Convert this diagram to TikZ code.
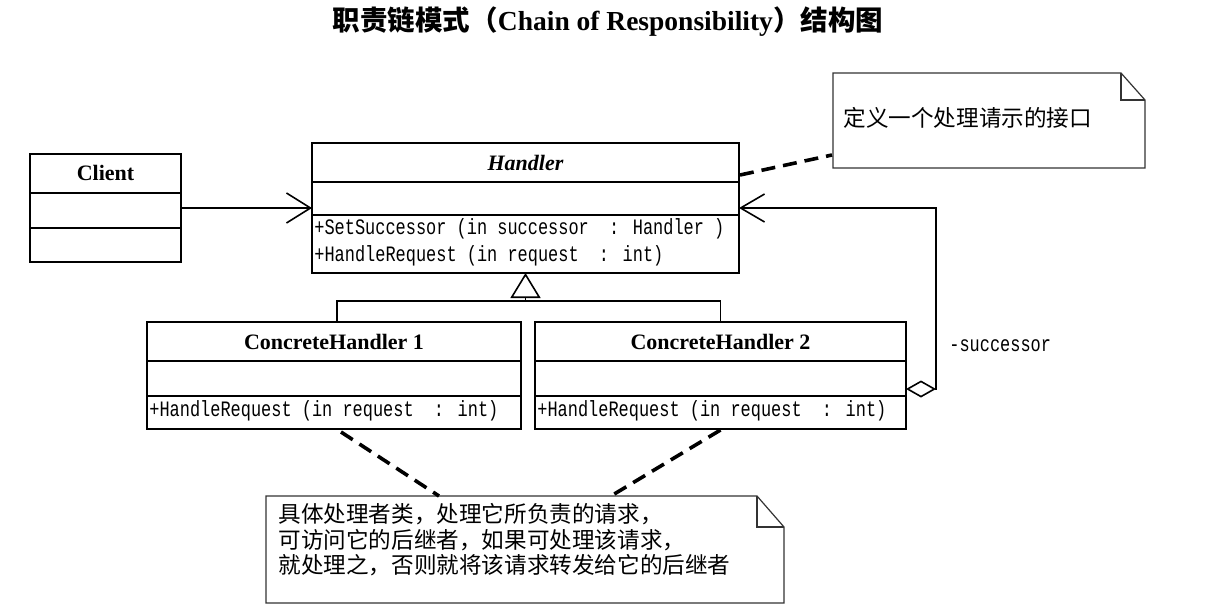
\documentclass[tikz,border=0pt]{standalone}
\usepackage{fontspec}
\setmainfont{Liberation Serif}
\newfontfamily\cjk{Noto Sans CJK SC}
\newfontfamily\methfont[FakeStretch=0.77]{Liberation Mono}
\usetikzlibrary{positioning, calc, arrows.meta}

\begin{document}
\begin{tikzpicture}[x=0.5pt,y=-0.5pt,
   classbox/.style={draw, line width=1pt, inner sep=0pt, outer sep=0pt},
   sepline/.style={line width=0.9pt},
   cname/.style={font=\fontsize{11}{13}\selectfont\bfseries, inner sep=0pt},
   meth/.style={font=\methfont\fontsize{11}{12}\selectfont, anchor=west, inner sep=0pt},
   notebox/.style={inner sep=0pt, outer sep=0pt},
   noteframe/.style={line width=0.6pt, draw=black!80},
   notetext/.style={font=\cjk\fontsize{11.3}{12.75}\selectfont, inner sep=0pt, align=left},
   noteline/.style={line width=1.8pt, dash pattern=on 7pt off 4pt},
   conn/.style={line width=0.7pt},
   assoc/.style={conn, -{Straight Barb[length=12pt,width=15pt,line width=0.8pt]}},
   inherit/.style={conn, -{Triangle[open,length=12.5pt,width=15pt,line width=0.8pt]}},
   aggr/.style={conn, {Diamond[open,length=15pt,width=8.5pt,line width=0.8pt]}-{Straight Barb[length=12pt,width=14pt,line width=0.8pt]}}]

\fill[white] (0,0) rectangle (1216,611);
\useasboundingbox (0,0) rectangle (1216,611);

\node (title) at (608,22) {\fontsize{13.75}{16}\selectfont\bfseries\cjk 职责链模式（\rmfamily Chain of Responsibility\cjk ）结构图};

% classes
\node[classbox, minimum width=75.5pt, minimum height=54pt] (client) at (105.5,208) {};
\node[classbox, minimum width=213.5pt, minimum height=65pt] (handler) at (525.5,208) {};
\node[classbox, minimum width=187pt, minimum height=53.5pt] (ch1) at (334,375.5) {};
\node[classbox, minimum width=185.5pt, minimum height=53.5pt] (ch2) at (720.5,375.5) {};

\draw[sepline] ($(client.north west)+(0,39)$) -- ($(client.north east)+(0,39)$);
\draw[sepline] ($(client.north west)+(0,74)$) -- ($(client.north east)+(0,74)$);
\draw[sepline] ($(handler.north west)+(0,39)$) -- ($(handler.north east)+(0,39)$);
\draw[sepline] ($(handler.north west)+(0,72)$) -- ($(handler.north east)+(0,72)$);
\foreach \c in {ch1, ch2} {
  \draw[sepline] ($(\c.north west)+(0,39)$) -- ($(\c.north east)+(0,39)$);
  \draw[sepline] ($(\c.north west)+(0,74)$) -- ($(\c.north east)+(0,74)$);
}

\node[cname] (clientname) at ($(client.north)+(0,19)$) {Client};
\node[cname] (handlername) at ($(handler.north)+(0,20)$) {\itshape Handler};
\node[cname] (ch1name) at ($(ch1.north)+(0,20)$) {ConcreteHandler 1};
\node[cname] (ch2name) at ($(ch2.north)+(0,20)$) {ConcreteHandler 2};

\node[meth] (setsucc) at ($(handler.north west)+(2,86)$) {+SetSuccessor (in successor\ \ : Handler )};
\node[meth] (handlereq) at ($(handler.north west)+(2,113)$) {+HandleRequest (in request\ \ : int)};
\node[meth] (ch1req) at ($(ch1.north west)+(2,89)$) {+HandleRequest (in request\ \ : int)};
\node[meth] (ch2req) at ($(ch2.north west)+(2,89)$) {+HandleRequest (in request\ \ : int)};

% relations
\draw[assoc] (client.east) -- (client.east -| handler.west);
\coordinate (bus) at ($(handler.south)+(0,28)$);
\draw[conn] ($(ch1.north)+(3,0)$) |- (bus);
\draw[conn] (ch2.north) |- (bus);
\draw[inherit] (bus) -- (handler.south);
\coordinate (agg) at ($(ch2.east)+(0,13.5)$);
\draw[aggr] (agg) -- ++(30,0) |- (handler.east);
\node[meth] (succ) at (949,346) {-successor};

% notes
\node[notebox, minimum width=156pt, minimum height=47.5pt] (note1) at (989,120.5) {};
\draw[noteframe] (note1.north west) -- ($(note1.north east)+(-24,0)$) -- ($(note1.north east)+(0,27)$)
   -- (note1.south east) -- (note1.south west) -- cycle;
\draw[noteframe] ($(note1.north east)+(-24,0)$) |- ($(note1.north east)+(0,27)$);
\node[notetext, anchor=west] (note1text) at ($(note1.west)+(10,-3)$) {定义一个处理请示的接口};

\node[notebox, minimum width=259pt, minimum height=53.5pt] (note2) at (525,549.5) {};
\draw[noteframe] (note2.north west) -- ($(note2.north east)+(-27,0)$) -- ($(note2.north east)+(0,31)$)
   -- (note2.south east) -- (note2.south west) -- cycle;
\draw[noteframe] ($(note2.north east)+(-27,0)$) |- ($(note2.north east)+(0,31)$);
\node[notetext, anchor=north west] (note2text) at ($(note2.north west)+(12,7)$)
   {具体处理者类，处理它所负责的请求，\\可访问它的后继者，如果可处理该请求，\\就处理之，否则就将该请求转发给它的后继者};

\draw[noteline] ($(handler.north east)+(1,32)$) -- ($(note1.south west)+(-1,-13)$);
\draw[noteline] ($(ch1.south)+(7,3)$) -- ($(note2.north)+(-86,0)$);
\draw[noteline] ($(ch2.south)+(0,1)$) -- ($(note2.north)+(86,0)$);

\end{tikzpicture}
\end{document}
